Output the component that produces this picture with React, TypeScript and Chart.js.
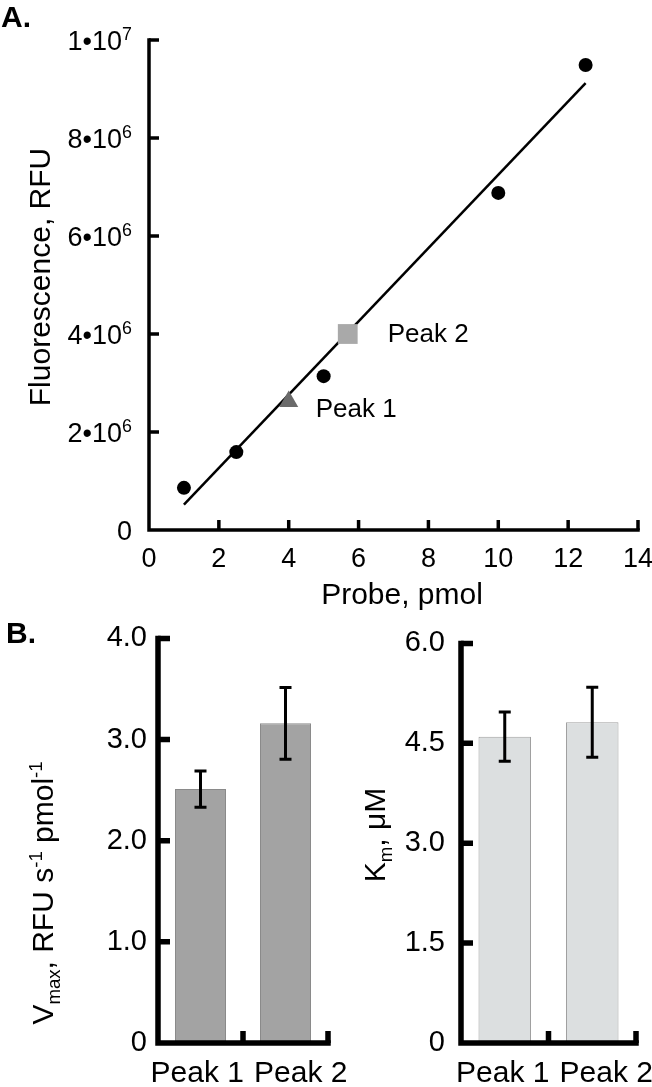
import React, { useEffect, useRef } from 'react';
import { Chart, registerables } from 'chart.js';

Chart.register(...registerables);

const FONT = '"Liberation Sans", Arial, Helvetica, sans-serif';

// ---- Panel A data ----
const probePmol = [1, 2.5, 5, 10, 12.5];
const fluorescenceRfu = [0.86e6, 1.59e6, 3.14e6, 6.88e6, 9.49e6];
const fitPmol = [1, 12.5];
const fitRfu = [0.52e6, 9.12e6];
const peakNames = ['Peak 1', 'Peak 2'];
const peakPmol = [4.0, 5.69];
const peakRfu = [2.62e6, 4.0e6];
const yTickMantissaA = ['0', '2', '4', '6', '8', '1'];
const yTickExponentA = ['', '6', '6', '6', '6', '7'];

// ---- Panel B data ----
const categories = ['Peak 1', 'Peak 2'];
const vmaxValues = [2.51, 3.16];
const vmaxErrors = [0.18, 0.355];
const kmValues = [4.6, 4.815];
const kmErrors = [0.37, 0.525];

type Seg = { t: string; s?: 'sub' | 'sup' };

function drawRich(
  ctx: CanvasRenderingContext2D,
  segs: Seg[],
  size: number,
  x: number,
  y: number,
  rotate: boolean,
  align: 'center' | 'right' = 'center',
  smallRatio = 0.62
) {
  ctx.save();
  ctx.translate(x, y);
  if (rotate) ctx.rotate(-Math.PI / 2);
  const small = size * smallRatio;
  let total = 0;
  const widths = segs.map((sg) => {
    ctx.font = `${sg.s ? small : size}px ${FONT}`;
    const w = ctx.measureText(sg.t).width;
    total += w;
    return w;
  });
  let cx = align === 'center' ? -total / 2 : -total;
  ctx.textBaseline = 'alphabetic';
  ctx.textAlign = 'left';
  ctx.fillStyle = '#000';
  segs.forEach((sg, i) => {
    ctx.font = `${sg.s ? small : size}px ${FONT}`;
    const dy = sg.s === 'sub' ? size * 0.22 : sg.s === 'sup' ? -size * 0.36 : 0;
    ctx.fillText(sg.t, cx, dy);
    cx += widths[i];
  });
  ctx.restore();
}

function axesPlugin(lw: number, tl: number, category: boolean) {
  return {
    id: 'customAxes',
    afterDraw(chart: any) {
      const { ctx, chartArea: a, scales } = chart;
      const x = scales.x;
      const y = scales.y;
      ctx.save();
      ctx.strokeStyle = '#000';
      ctx.lineWidth = lw;
      ctx.lineCap = 'butt';
      ctx.lineJoin = 'miter';
      const top = y.getPixelForValue(y.max);
      ctx.beginPath();
      ctx.moveTo(a.left, top - lw / 2);
      ctx.lineTo(a.left, a.bottom);
      ctx.lineTo(a.right + lw / 2, a.bottom);
      ctx.stroke();
      ctx.beginPath();
      y.ticks.forEach((t: any) => {
        if (t.value === 0) return;
        const p = y.getPixelForValue(t.value);
        ctx.moveTo(a.left, p);
        ctx.lineTo(a.left + tl, p);
      });
      if (category) {
        const n = chart.data.labels.length;
        for (let i = 0; i < n; i++) {
          const p = i < n - 1 ? (x.getPixelForValue(i) + x.getPixelForValue(i + 1)) / 2 : a.right;
          ctx.moveTo(p, a.bottom);
          ctx.lineTo(p, a.bottom - tl);
        }
      } else {
        x.ticks.forEach((t: any) => {
          if (t.value === 0) return;
          const p = x.getPixelForValue(t.value);
          ctx.moveTo(p, a.bottom);
          ctx.lineTo(p, a.bottom - tl);
        });
      }
      ctx.stroke();
      ctx.restore();
    },
  };
}

function errorPlugin(values: number[], errors: number[]) {
  return {
    id: 'errorBars',
    afterDatasetsDraw(chart: any) {
      const meta = chart.getDatasetMeta(0);
      const y = chart.scales.y;
      const ctx = chart.ctx;
      ctx.save();
      ctx.strokeStyle = '#000';
      ctx.lineWidth = 3;
      meta.data.forEach((bar: any, i: number) => {
        const hi = y.getPixelForValue(values[i] + errors[i]);
        const lo = y.getPixelForValue(values[i] - errors[i]);
        ctx.beginPath();
        ctx.moveTo(bar.x, hi);
        ctx.lineTo(bar.x, lo);
        ctx.moveTo(bar.x - 6, hi);
        ctx.lineTo(bar.x + 6, hi);
        ctx.moveTo(bar.x - 6, lo);
        ctx.lineTo(bar.x + 6, lo);
        ctx.stroke();
      });
      ctx.restore();
    },
  };
}

function categoryLabelPlugin(size: number) {
  return {
    id: 'catLabels',
    afterDraw(chart: any) {
      const { ctx, chartArea: a, scales } = chart;
      const x = scales.x;
      const labels: string[] = chart.data.labels;
      const boundary = (x.getPixelForValue(0) + x.getPixelForValue(1)) / 2;
      ctx.save();
      ctx.font = `${size}px ${FONT}`;
      ctx.fillStyle = '#000';
      ctx.textBaseline = 'alphabetic';
      ctx.textAlign = 'right';
      ctx.fillText(labels[0], boundary + 1, a.bottom + 39);
      ctx.textAlign = 'left';
      ctx.fillText(labels[1], boundary + 11, a.bottom + 39);
      ctx.restore();
    },
  };
}

function textPlugin(draw: (chart: any, ctx: CanvasRenderingContext2D) => void) {
  return {
    id: 'texts',
    afterDraw(chart: any) {
      draw(chart, chart.ctx);
    },
  };
}

export default function App() {
  const refA = useRef<HTMLCanvasElement>(null);
  const refB1 = useRef<HTMLCanvasElement>(null);
  const refB2 = useRef<HTMLCanvasElement>(null);

  useEffect(() => {
    const tickFontA = { family: FONT, size: 27 };

    const chartA = new Chart(refA.current!, {
      type: 'scatter',
      data: {
        datasets: [
          {
            data: probePmol.map((x, i) => ({ x, y: fluorescenceRfu[i] })),
            pointStyle: 'circle',
            pointRadius: 7,
            backgroundColor: '#000',
            borderWidth: 0,
            order: 1,
          },
          {
            data: [{ x: peakPmol[0], y: peakRfu[0] }],
            pointStyle: 'triangle',
            pointRadius: 11,
            backgroundColor: '#6a6a6a',
            borderWidth: 0,
            order: 1,
          },
          {
            data: [{ x: peakPmol[1], y: peakRfu[1] }],
            pointStyle: 'rect',
            pointRadius: 14,
            backgroundColor: '#a9a9a9',
            borderWidth: 0,
            order: 1,
          },
          {
            type: 'line',
            data: fitPmol.map((x, i) => ({ x, y: fitRfu[i] })),
            borderColor: '#000',
            borderWidth: 2.5,
            pointRadius: 0,
            showLine: true,
            fill: false,
            order: 5,
          } as any,
        ],
      },
      options: {
        animation: false,
        responsive: false,
        layout: { padding: { left: 0, top: 40, right: 13, bottom: 0 } },
        plugins: { legend: { display: false }, tooltip: { enabled: false } },
        scales: {
          x: {
            type: 'linear',
            min: 0,
            max: 14,
            ticks: { stepSize: 2, font: tickFontA, color: '#000', padding: 13 },
            grid: { display: false, drawTicks: false },
            border: { display: false },
            afterFit: (s: any) => {
              s.height = 80;
              s.paddingLeft = 0;
              s.paddingRight = 0;
            },
          },
          y: {
            min: 0,
            max: 1e7,
            ticks: { stepSize: 2e6, display: false },
            grid: { display: false, drawTicks: false },
            border: { display: false },
            afterFit: (s: any) => {
              s.width = 149;
            },
          },
        },
      },
      plugins: [
        axesPlugin(3.5, 10, false),
        textPlugin((chart, ctx) => {
          const { chartArea: a, scales } = chart;
          // y tick labels with superscript exponents
          scales.y.ticks.forEach((t: any) => {
            const idx = Math.round(t.value / 2e6);
            const p = scales.y.getPixelForValue(t.value);
            const segs: Seg[] = yTickExponentA[idx]
              ? [{ t: yTickMantissaA[idx] + '•10' }, { t: yTickExponentA[idx], s: 'sup' }]
              : [{ t: yTickMantissaA[idx] }];
            drawRich(ctx, segs, 27, 132, p + 9.5, false, 'right', 0.66);
          });
          ctx.save();
          ctx.fillStyle = '#000';
          ctx.font = `bold 30px ${FONT}`;
          ctx.textAlign = 'left';
          ctx.textBaseline = 'alphabetic';
          ctx.fillText('A.', 1, 27);
          ctx.restore();
          drawRich(ctx, [{ t: 'Probe, pmol' }], 30, 402, a.bottom + 74, false);
          drawRich(ctx, [{ t: 'Fluorescence, RFU' }], 30, 50, (a.top + a.bottom) / 2 - 8, true);
          ctx.save();
          ctx.font = `26px ${FONT}`;
          ctx.fillStyle = '#000';
          ctx.textAlign = 'left';
          ctx.textBaseline = 'middle';
          const p1x = scales.x.getPixelForValue(peakPmol[0]);
          const p1y = scales.y.getPixelForValue(peakRfu[0]);
          const p2x = scales.x.getPixelForValue(peakPmol[1]);
          const p2y = scales.y.getPixelForValue(peakRfu[1]);
          ctx.fillText(peakNames[0], p1x + 27, p1y + 8);
          ctx.fillText(peakNames[1], p2x + 40, p2y + 1);
          ctx.restore();
        }),
      ],
    } as any);

    const tickFontB = { family: FONT, size: 29 };

    const chartB1 = new Chart(refB1.current!, {
      type: 'bar',
      data: {
        labels: categories,
        datasets: [
          {
            data: vmaxValues,
            backgroundColor: '#a3a3a3',
            borderColor: '#8a8a8a',
            borderWidth: 1,
            barPercentage: 0.6,
            categoryPercentage: 1.0,
          },
        ],
      },
      options: {
        animation: false,
        responsive: false,
        layout: { padding: { left: 0, top: 22, right: 32, bottom: 0 } },
        plugins: { legend: { display: false }, tooltip: { enabled: false } },
        scales: {
          x: {
            offset: true,
            ticks: { display: false },
            grid: { display: false, drawTicks: false },
            border: { display: false },
            afterFit: (s: any) => {
              s.height = 44;
              s.paddingLeft = 0;
              s.paddingRight = 0;
            },
          },
          y: {
            min: 0,
            max: 4,
            ticks: {
              stepSize: 1,
              font: tickFontB,
              color: '#000',
              padding: 11,
              callback: (v: any) => (Number(v) === 0 ? '0' : Number(v).toFixed(1)),
            },
            grid: { display: false, drawTicks: false },
            border: { display: false },
            afterFit: (s: any) => {
              s.width = 158;
            },
          },
        },
      },
      plugins: [
        errorPlugin(vmaxValues, vmaxErrors),
        axesPlugin(5.5, 12, true),
        categoryLabelPlugin(30),
        textPlugin((chart, ctx) => {
          ctx.save();
          ctx.fillStyle = '#000';
          ctx.font = `bold 30px ${FONT}`;
          ctx.textAlign = 'left';
          ctx.textBaseline = 'alphabetic';
          ctx.fillText('B.', 6, 33);
          ctx.restore();
          drawRich(
            ctx,
            [{ t: 'V' }, { t: 'max', s: 'sub' }, { t: ', RFU s' }, { t: '-1', s: 'sup' }, { t: ' pmol' }, { t: '-1', s: 'sup' }],
            30,
            53,
            283,
            true
          );
        }),
      ],
    } as any);

    const chartB2 = new Chart(refB2.current!, {
      type: 'bar',
      data: {
        labels: categories,
        datasets: [
          {
            data: kmValues,
            backgroundColor: '#dcdfe0',
            borderColor: '#a0a0a0',
            borderWidth: 1,
            barPercentage: 0.6,
            categoryPercentage: 1.0,
          },
        ],
      },
      options: {
        animation: false,
        responsive: false,
        layout: { padding: { left: 0, top: 27, right: 16, bottom: 0 } },
        plugins: { legend: { display: false }, tooltip: { enabled: false } },
        scales: {
          x: {
            offset: true,
            ticks: { display: false },
            grid: { display: false, drawTicks: false },
            border: { display: false },
            afterFit: (s: any) => {
              s.height = 44;
              s.paddingLeft = 0;
              s.paddingRight = 0;
            },
          },
          y: {
            min: 0,
            max: 6,
            ticks: {
              stepSize: 1.5,
              font: tickFontB,
              color: '#000',
              padding: 16,
              callback: (v: any) => (Number(v) === 0 ? '0' : Number(v).toFixed(1)),
            },
            grid: { display: false, drawTicks: false },
            border: { display: false },
            afterFit: (s: any) => {
              s.width = 131;
            },
          },
        },
      },
      plugins: [
        errorPlugin(kmValues, kmErrors),
        axesPlugin(5.5, 12, true),
        categoryLabelPlugin(30),
        textPlugin((chart, ctx) => {
          drawRich(ctx, [{ t: 'K' }, { t: 'm', s: 'sub' }, { t: ', μM' }], 30, 55, 225, true);
        }),
      ],
    } as any);

    return () => {
      chartA.destroy();
      chartB1.destroy();
      chartB2.destroy();
    };
  }, []);

  return (
    <div style={{ position: 'absolute', left: 0, top: 0, width: 652, height: 1087, background: '#fff' }}>
      <canvas ref={refA} width={652} height={610} style={{ position: 'absolute', left: 0, top: 0, width: 652, height: 610 }} />
      <canvas ref={refB1} width={360} height={477} style={{ position: 'absolute', left: 0, top: 610, width: 360, height: 477 }} />
      <canvas ref={refB2} width={322} height={477} style={{ position: 'absolute', left: 330, top: 610, width: 322, height: 477 }} />
    </div>
  );
}
